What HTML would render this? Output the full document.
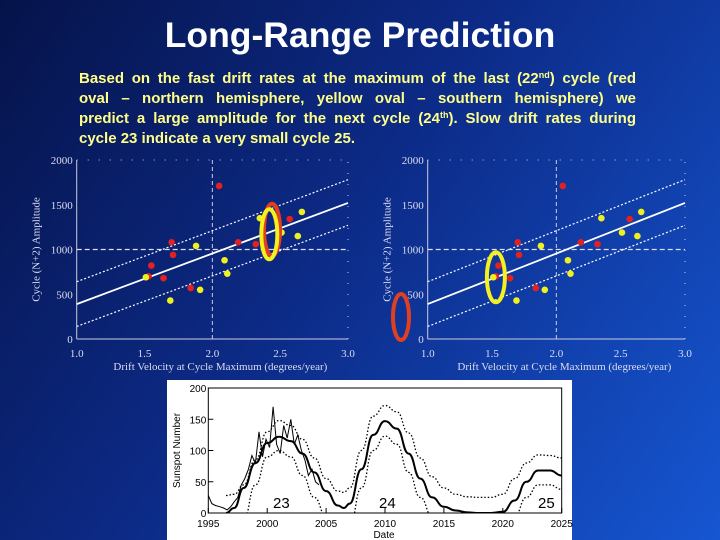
<!DOCTYPE html>
<html><head><meta charset="utf-8"><style>
html,body{margin:0;padding:0}
body{width:720px;height:540px;overflow:hidden;position:relative;background:linear-gradient(125deg,#06134a 0%,#0c2a86 45%,#1656d2 100%);font-family:"Liberation Sans",sans-serif}
#title{position:absolute;left:0;width:720px;top:15px;text-align:center;color:#fff;font-weight:bold;font-size:35.5px}
#para{position:absolute;left:79px;top:69px;width:557px;color:#ffff88;font-weight:bold;font-size:15px;line-height:20px}
#para .l{text-align:justify;text-align-last:justify;white-space:nowrap}
#para .last{text-align:left}
#para sup{font-size:9px;line-height:0;vertical-align:5px}
svg{position:absolute;left:0;top:0}
</style></head><body>
<div id="title">Long-Range Prediction</div>
<div id="para">
<div class="l">Based on the fast drift rates at the maximum of the last (22<sup>nd</sup>) cycle (red</div>
<div class="l">oval – northern hemisphere, yellow oval – southern hemisphere) we</div>
<div class="l">predict a large amplitude for the next cycle (24<sup>th</sup>). Slow drift rates during</div>
<div class="last">cycle 23 indicate a very small cycle 25.</div>
</div>
<svg id="s" width="720" height="540"></svg>
<script>
const redX=[2.05,1.55,1.70,1.71,1.64,1.84,2.19,2.32,2.57,1.53];
const redY=[1710,820,1080,940,680,570,1080,1060,1340,700];
const yelX=[1.51,1.69,1.88,1.91,2.09,2.11,2.35,2.63,2.66,2.51];
const yelY=[690,430,1040,550,880,730,1350,1150,1420,1190];
const fitX=[1.0,3.0];
const fitMid=[390,1520];
const fitUp=[640,1780];
const fitLo=[140,1270];
const xTicks=["1.0","1.5","2.0","2.5","3.0"];
const yTicks=["0","500","1000","1500","2000"];
const years=[1995,1996.5,1997.2,1998,1999,2000,2001,2002,2003,2004,2005,2006,2006.5,2007,2008,2009,2010,2011,2012,2013,2014,2015,2016,2017,2018,2019,2020,2021,2022,2023,2024,2025];
const predMid=[null,0,8,40,80,112,122,115,95,65,35,12,8,15,70,125,147,135,95,55,25,10,4,1,0,0,2,20,50,68,68,60];
const predUp=[null,28,30,45,85,130,148,140,118,88,55,35,33,40,100,155,172,162,128,88,58,40,30,26,25,25,30,55,80,93,92,88];
const predLo=[null,null,null,-10,45,90,100,90,60,25,-5,null,null,-20,40,100,123,110,65,25,-5,null,null,null,null,null,null,-5,25,45,45,38];
const obsYr=[1995,1995.3,1995.6,1996,1996.3,1996.6,1996.9,1997.2,1997.5,1997.8,1998.1,1998.4,1998.7,1999,1999.3,1999.6,1999.9,2000.2,2000.5,2000.8,2001.1,2001.4,2001.7,2002,2002.3,2002.6,2002.9,2003.2,2003.5,2003.8,2004.1,2004.4];
const obsVal=[28,15,12,10,8,5,10,18,25,45,55,70,92,80,130,90,118,105,170,110,95,140,120,150,110,125,100,85,60,70,50,45];
const bTicksX=[1995,2000,2005,2010,2015,2020,2025];
const bTicksY=[0,50,100,150,200];
const cycLab=[["23",2001.2],["24",2010.2],["25",2023.7]];

const S=document.getElementById('s');const NS='http://www.w3.org/2000/svg';
function mk(t,a,p){const e=document.createElementNS(NS,t);for(const k in a)e.setAttribute(k,a[k]);(p||S).appendChild(e);return e;}

function scatter(x0,x1,name,ovals){
  const g=mk('g',{});
  
  
  const X=v=>x0+(v-1)*(x1-x0)/2, Y=v=>339-v*0.0895;
  mk('line',{x1:X(1),y1:Y(0),x2:X(1),y2:Y(2000),stroke:'#ccd',"stroke-width":1},g);
  mk('line',{x1:X(1),y1:Y(0),x2:X(3),y2:Y(0),stroke:'#ccd',"stroke-width":1},g);
  mk('line',{x1:X(3),y1:Y(0),x2:X(3),y2:Y(2000),stroke:'#ccd',"stroke-width":1,"stroke-dasharray":"1 10"},g);
  mk('line',{x1:X(1),y1:Y(2000),x2:X(3),y2:Y(2000),stroke:'#ccd',"stroke-width":1,"stroke-dasharray":"1 10"},g);
  mk('line',{x1:X(2),y1:Y(0),x2:X(2),y2:Y(2000),stroke:'#ccd',"stroke-width":1,"stroke-dasharray":"4 3"},g);
  mk('line',{x1:X(1),y1:Y(1000),x2:X(3),y2:Y(1000),stroke:'#dde',"stroke-width":1.2,"stroke-dasharray":"5 3"},g);
  xTicks.forEach(t=>{const v=+t;const e=mk('text',{x:X(v),y:357,fill:'#dde',"font-size":11,"text-anchor":"middle","font-family":"Liberation Serif,serif"},g);e.textContent=t;
    });
  yTicks.forEach(t=>{const e=mk('text',{x:X(1)-4,y:Y(+t)+4,fill:'#dde',"font-size":11,"text-anchor":"end","font-family":"Liberation Serif,serif"},g);e.textContent=t;
    });
  let e=mk('text',{x:(X(1)+X(3))/2+8,y:370,fill:'#dde',"font-size":11,"text-anchor":"middle","font-family":"Liberation Serif,serif"},g);e.textContent='Drift Velocity at Cycle Maximum (degrees/year)';
  
  e=mk('text',{x:0,y:0,fill:'#dde',"font-size":11,"text-anchor":"middle","font-family":"Liberation Serif,serif",transform:`translate(${X(1)-37},${Y(1000)}) rotate(-90)`},g);e.textContent='Cycle (N+2) Amplitude';
  
  [[fitUp,"2 2"],[fitMid,""],[fitLo,"2 2"]].forEach(([f,d])=>{const l=mk('line',{x1:X(fitX[0]),y1:Y(f[0]),x2:X(fitX[1]),y2:Y(f[1]),stroke:'#fff',"stroke-width":d?1.2:1.8,"stroke-dasharray":d},g);
    });
  redX.forEach((v,i)=>{const c=mk('circle',{cx:X(v),cy:Y(redY[i]),r:3.3,fill:'#e52020'},g);});
  yelX.forEach((v,i)=>{const c=mk('circle',{cx:X(v),cy:Y(yelY[i]),r:3.3,fill:'#f0f020'},g);});
  ovals(X,Y,g);
}
scatter(76.7,348,'left-scatter-chart',(X,Y,g)=>{
  let o=mk('ellipse',{cx:X(2.44),cy:Y(1220),rx:8,ry:26,fill:'none',stroke:'#e04020',"stroke-width":4},g);
  o=mk('ellipse',{cx:X(2.42),cy:Y(1170),rx:8,ry:25,fill:'none',stroke:'#f5f020',"stroke-width":4},g);
});
scatter(427.7,685,'right-scatter-chart',(X,Y,g)=>{
  let o=mk('ellipse',{cx:401,cy:317,rx:8,ry:23,fill:'none',stroke:'#e04020',"stroke-width":4},g);
  o=mk('ellipse',{cx:X(1.53),cy:Y(690),rx:9,ry:25,fill:'none',stroke:'#f5f020',"stroke-width":4},g);
});

const bg=mk('g',{});


mk('rect',{x:167,y:380,width:405,height:160,fill:'#fff'},bg);
const BX=v=>208.3+(v-1995)*(561.7-208.3)/30, BY=v=>513-v*0.625;
mk('defs',{},bg).innerHTML='<clipPath id="cp"><rect x="208" y="388" width="354" height="125"/></clipPath>';
mk('rect',{x:BX(1995),y:BY(200),width:BX(2025)-BX(1995),height:BY(0)-BY(200),fill:'none',stroke:'#000',"stroke-width":1},bg);
bTicksX.forEach(t=>{mk('line',{x1:BX(t),y1:BY(0),x2:BX(t),y2:BY(0)-5,stroke:'#000'},bg);
  const e=mk('text',{x:BX(t),y:527,"font-size":10,"text-anchor":"middle",fill:'#000'},bg);e.textContent=t;});
bTicksY.forEach(t=>{mk('line',{x1:BX(1995),y1:BY(t),x2:BX(1995)+5,y2:BY(t),stroke:'#000'},bg);
  const e=mk('text',{x:BX(1995)-2,y:BY(t)+4,"font-size":10,"text-anchor":"end",fill:'#000'},bg);e.textContent=t;});
let te=mk('text',{x:384,y:538,"font-size":10,"text-anchor":"middle",fill:'#000'},bg);te.textContent='Date';
te=mk('text',{x:0,y:0,"font-size":10,"text-anchor":"middle",fill:'#000',transform:`translate(180,${BY(100)}) rotate(-90)`},bg);te.textContent='Sunspot Number';
const cg=mk('g',{"clip-path":"url(#cp)"},bg);
function path(xs,ys){let pts=[];let d='';const flush=()=>{if(pts.length){d+='M'+pts[0];for(let i=1;i<pts.length;i++){const [x0,y0]=pts[i-1],[x1,y1]=pts[i];const mx=(x0+x1)/2;d+=`C${mx},${y0} ${mx},${y1} ${x1},${y1}`;}}pts=[];};
  xs.forEach((x,i)=>{const y=ys[i];if(y==null){flush();return;}pts.push([+BX(x).toFixed(1),+BY(y).toFixed(1)]);});flush();return d;}
function lpath(xs,ys){let d='';xs.forEach((x,i)=>{d+=(i?'L':'M')+BX(x).toFixed(1)+','+BY(ys[i]).toFixed(1);});return d;}
[[predUp,"1.5 2",1.3,'upper-bound'],[predLo,"1.5 2",1.3,'lower-bound'],[predMid,"",2,'predicted-curve']].forEach(([a,d,w,n])=>{
  const p=mk('path',{d:path(years,a),fill:'none',stroke:'#000',"stroke-width":w,"stroke-dasharray":d,"stroke-linejoin":"round"},cg);
  });
const op=mk('path',{d:lpath(obsYr,obsVal),fill:'none',stroke:'#000',"stroke-width":1},cg);

cycLab.forEach(([t,x])=>{const e=mk('text',{x:BX(x),y:508,"font-size":15,"text-anchor":"middle",fill:'#000'},bg);e.textContent=t;});
</script>
</body></html>
